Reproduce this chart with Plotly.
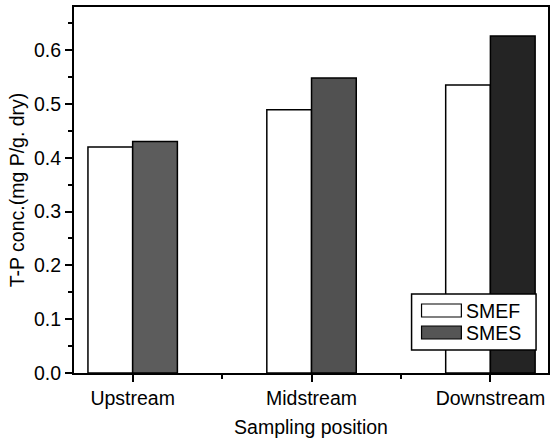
import plotly.graph_objects as go

categories = ["Upstream", "Midstream", "Downstream"]
series_names = ["SMEF", "SMES"]
smef = [0.420, 0.489, 0.535]
smes = [0.430, 0.548, 0.626]

W, H = 551, 441
ML, MR, MT, MB = 74, 1, 7, 68
FONT = "Liberation Sans, Arial, sans-serif"
FS = 19.5
xpos = list(range(len(categories)))
smes_fill = ["#5c5c5c", "#515151", "#242424"]

fig = go.Figure()
fig.add_trace(go.Bar(
    x=xpos, y=smef, name=series_names[0],
    marker=dict(color="white", line=dict(color="black", width=1.5)),
    showlegend=False,
))
fig.add_trace(go.Bar(
    x=xpos, y=smes, name=series_names[1],
    marker=dict(color=smes_fill, line=dict(color="black", width=1.5)),
    showlegend=False,
))

# custom legend (wide swatches, like the original)
pw = W - ML - MR
ph = H - MT - MB
def px(x):
    return (x - ML) / pw
def py(y):
    return (H - MB - y) / ph

shapes = [
    dict(type="rect", xref="paper", yref="paper", x0=px(413), x1=px(538), y0=py(350), y1=py(294),
         line=dict(color="black", width=1.5), fillcolor="white", layer="above"),
    dict(type="rect", xref="paper", yref="paper", x0=px(423), x1=px(463), y0=py(317), y1=py(304),
         line=dict(color="black", width=1.2), fillcolor="white", layer="above"),
    dict(type="rect", xref="paper", yref="paper", x0=px(423), x1=px(463), y0=py(339), y1=py(326),
         line=dict(color="black", width=1.2), fillcolor="#555555", layer="above"),
]
annotations = [
    dict(xref="paper", yref="paper", x=px(466), y=py(311), text=series_names[0], showarrow=False,
         xanchor="left", yanchor="middle", font=dict(family=FONT, size=FS, color="black")),
    dict(xref="paper", yref="paper", x=px(466), y=py(333), text=series_names[1], showarrow=False,
         xanchor="left", yanchor="middle", font=dict(family=FONT, size=FS, color="black")),
]

fig.update_layout(
    width=W, height=H,
    margin=dict(l=ML, r=MR, t=MT, b=MB),
    paper_bgcolor="white", plot_bgcolor="white",
    barmode="group", bargap=0.5, bargroupgap=0,
    font=dict(family=FONT, size=FS, color="black"),
    shapes=shapes, annotations=annotations,
    showlegend=False,
)
fig.update_xaxes(
    range=[-0.328, 2.322],
    tickmode="array", tickvals=xpos, ticktext=categories,
    ticks="outside", ticklen=7, tickwidth=1.5, tickcolor="black",
    minor=dict(tickmode="array", tickvals=[0.5, 1.5], ticks="outside", ticklen=4, tickwidth=1.5, tickcolor="black"),
    showline=True, linecolor="black", linewidth=2, mirror=True,
    showgrid=False, zeroline=False,
    title=dict(text="Sampling position", font=dict(family=FONT, size=FS), standoff=12),
    tickfont=dict(family=FONT, size=FS),
)
fig.update_yaxes(
    range=[0, 0.68], dtick=0.1, tick0=0, tickformat=".1f",
    ticks="outside", ticklen=7, tickwidth=1.5, tickcolor="black",
    minor=dict(dtick=0.05, ticks="outside", ticklen=4, tickwidth=1.5, tickcolor="black"),
    showline=True, linecolor="black", linewidth=2, mirror=True,
    showgrid=False, zeroline=False,
    title=dict(text="T-P conc.(mg P/g. dry)", font=dict(family=FONT, size=FS), standoff=4),
    tickfont=dict(family=FONT, size=FS),
)

fig.write_html("out.html")
